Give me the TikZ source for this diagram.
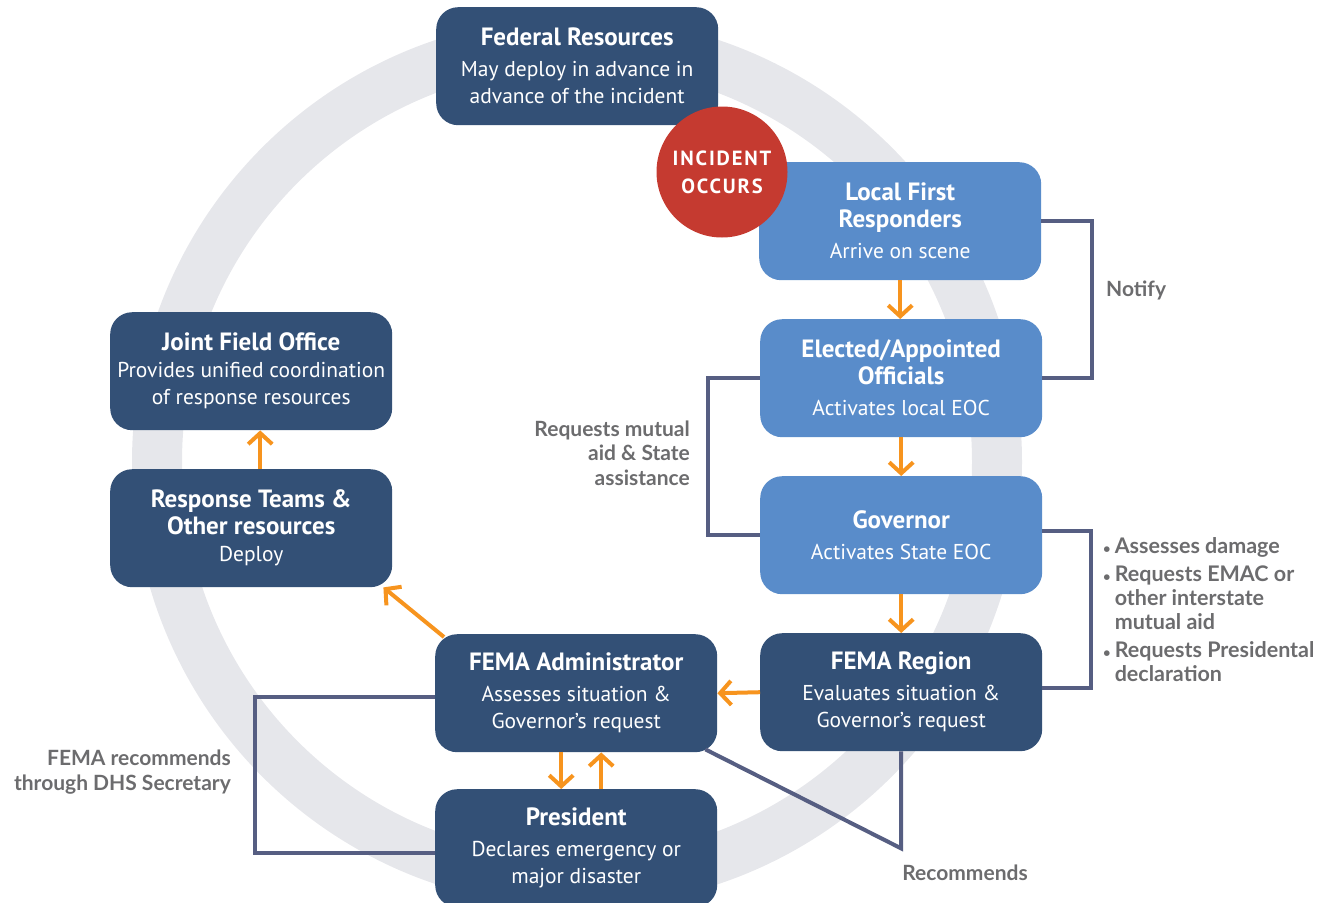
\documentclass[tikz,border=0pt]{standalone}
\usepackage{fontspec}
\setmainfont{PT Sans}
\newfontfamily\lab{Lato}
\usetikzlibrary{arrows.meta}
\definecolor{dkbox}{RGB}{51,80,118}
\definecolor{ltbox}{RGB}{89,140,202}
\definecolor{incred}{RGB}{197,58,48}
\definecolor{orng}{RGB}{247,148,30}
\definecolor{conn}{RGB}{86,94,130}
\definecolor{lbl}{RGB}{108,108,110}
\definecolor{ringc}{RGB}{230,231,235}
\newcommand\ttl[1]{{\fontsize{25}{27}\selectfont\bfseries #1}}
\begin{document}
\begin{tikzpicture}[x=1pt,y=-1pt,
 box/.style={rounded corners=22pt, minimum width=282pt, minimum height=118pt, align=center, text=white, inner sep=0pt, font=\fontsize{21.5}{27}\selectfont, anchor=north west},
 dkb/.style={box, fill=dkbox},
 ltb/.style={box, fill=ltbox},
 flow/.style={draw=orng, line width=4pt, -{Straight Barb[length=11pt,width=24pt]}},
 link/.style={draw=conn, line width=4pt},
 note/.style={text=lbl, font=\lab\bfseries\fontsize{21}{24.5}\selectfont, inner sep=0pt},
]
\useasboundingbox (0,0) rectangle (1335,902);
% background ring
\draw[ringc, line width=50pt] (577,462) circle[radius=420];

% boxes
\node[dkb] (fed) at (436,7) {\ttl{Federal Resources}\\[4pt]May deploy in advance in\\advance of the incident};
\node[ltb] (lfr) at (759,162) {\ttl{Local First}\\\ttl{Responders}\\[4pt]Arrive on scene};
\node[ltb] (eoa) at (760,319) {\ttl{Elected/Appointed}\\\ttl{Officials}\\[4pt]Activates local EOC};
\node[ltb] (gov) at (760,476) {\ttl{Governor}\\[4pt]Activates State EOC};
\node[dkb] (region) at (760,633) {\ttl{FEMA Region}\\[4pt]Evaluates situation \&\\Governor’s request};
\node[dkb] (admin) at (435,634) {\ttl{FEMA Administrator}\\[4pt]Assesses situation \&\\Governor’s request};
\node[dkb] (pres) at (435,789) {\ttl{President}\\[4pt]Declares emergency or\\major disaster};
\node[dkb] (jfo) at (110,312) {\ttl{Joint Field Office}\\Provides unified coordination\\of response resources};
\node[dkb] (resp) at (110,469) {\ttl{Response Teams \&}\\\ttl{Other resources}\\Deploy};

% incident
\node[circle, fill=incred, minimum size=131pt, inner sep=0pt, text=white, align=center,
  font=\bfseries\fontsize{20.5}{28}\selectfont\addfontfeature{LetterSpace=9}] (inc) at (722,172) {INCIDENT\\OCCURS};

% grey connectors
\draw[link] (lfr.east) -- ++(51,0) |- (eoa.east);
\draw[link] (eoa.west) -- ++(-52,0) |- (gov.west);
\draw[link] ([yshift=4pt]gov.east) -- ++(49,0) |- ([yshift=4pt]region.east);
\draw[link] ([yshift=-4pt]admin.west) -- ++(-180,0) |- ([yshift=-5pt]pres.west);
\coordinate (reccorner) at ([shift={(-12pt,3pt)}]admin.south east);
\draw[link] (region.south) -- ++(0,97) -- (reccorner);

% orange arrows
\draw[flow] (lfr.south) -- (lfr.south |- eoa.north);
\draw[flow] (eoa.south) -- (gov.north);
\draw[flow] (gov.south) -- (region.north);
\draw[flow] (region.west) -- (admin.east);
\draw[flow] ([xshift=-15pt]admin.south) -- ([xshift=-15pt]pres.north);
\draw[flow] ([xshift=25pt]pres.north) -- ([xshift=25pt]admin.south);
\draw[flow] ([shift={(9pt,-3pt)}]admin.north west) -- ([shift={(-9pt,0pt)}]resp.south east);
\draw[flow] ([xshift=9pt]resp.north) -- ([xshift=9pt]jfo.south);

% labels
\node[note, anchor=west] (notify) at (1106,290) {Notify};
\node[note, anchor=east, align=right] (mutual) at (690,453) {Requests mutual\\aid \& State\\assistance};
\node[note, anchor=east, align=right] (dhs) at (231,772) {FEMA recommends\\through DHS Secretary};
\node[note] (rec) at (965,873) {Recommends};
\node[note, anchor=north west, font=\lab\bfseries\fontsize{21.5}{24}\selectfont] (bul) at (1103,536) {%
\begin{tabular}{@{}l@{\hspace{4pt}}l@{}}
{\fontsize{13}{13}\selectfont •} & Assesses damage\\[4pt]
{\fontsize{13}{13}\selectfont •} & Requests EMAC or\\
 & other interstate\\
 & mutual aid\\[4pt]
{\fontsize{13}{13}\selectfont •} & Requests Presidental\\
 & declaration
\end{tabular}};
\end{tikzpicture}
\end{document}
